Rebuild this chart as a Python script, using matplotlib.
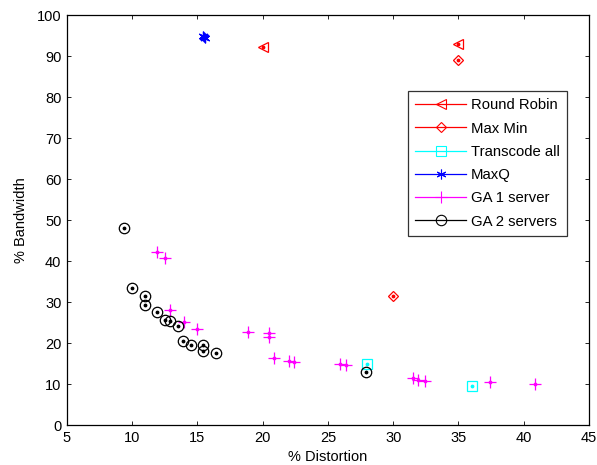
import matplotlib
matplotlib.use("Agg")
import matplotlib.pyplot as plt
from matplotlib.lines import Line2D

plt.rcParams['font.family'] = ['Liberation Sans', 'DejaVu Sans']

# % Distortion / % Bandwidth for each scheduling strategy
rr_x = [20.0, 35.0]
rr_y = [92.2, 93.0]

maxmin_x = [35.0, 30.0]
maxmin_y = [89.0, 31.5]

transcode_x = [28.0, 36.0]
transcode_y = [14.8, 9.6]

maxq_x = [15.4, 15.5, 15.6]
maxq_y = [94.9, 94.6, 94.4]

ga1_x = [11.9, 12.5, 12.9, 14.0, 15.0, 18.9, 20.5, 20.5, 20.9, 22.0, 22.4,
         25.9, 26.4, 31.5, 31.9, 32.4, 37.4, 40.9]
ga1_y = [42.1, 40.8, 28.0, 25.2, 23.4, 22.8, 22.4, 21.5, 16.3, 15.6, 15.3,
         15.0, 14.6, 11.4, 11.1, 10.7, 10.6, 9.9]

ga2_x = [9.4, 10.0, 11.0, 11.0, 11.9, 12.5, 12.9, 13.5, 13.9, 14.5, 15.4,
         15.4, 16.4, 27.9]
ga2_y = [48.0, 33.5, 31.5, 29.2, 27.5, 25.7, 25.4, 24.1, 20.5, 19.5, 19.5,
         18.1, 17.5, 13.0]

asterisk = (6, 2, 0)
series = [
    ("Round Robin", rr_x, rr_y, '<', '#ff0000', 7),
    ("Max Min", maxmin_x, maxmin_y, 'D', '#ff0000', 5.5),
    ("Transcode all", transcode_x, transcode_y, 's', '#00ffff', 6.5),
    ("MaxQ", maxq_x, maxq_y, asterisk, '#0000ff', 7),
    ("GA 1 server", ga1_x, ga1_y, '+', '#ff00ff', 8),
    ("GA 2 servers", ga2_x, ga2_y, 'o', '#000000', 7.5),
]

fig = plt.figure(figsize=(5.97, 4.65), dpi=100)
ax = fig.add_axes([0.1122, 0.086, 0.8744, 0.8817])

handles = []
for name, xs, ys, mk, col, ms in series:
    ax.plot(xs, ys, linestyle='none', marker=mk, markersize=ms,
            markerfacecolor='none', markeredgecolor=col, markeredgewidth=0.9)
    ax.plot(xs, ys, linestyle='none', marker='.', markersize=3.5, color=col)
    handles.append(Line2D([], [], color=col, linewidth=0.9, marker=mk,
                          markersize=ms, markerfacecolor='none',
                          markeredgecolor=col, markeredgewidth=0.8,
                          label=name))

ax.set_xlim(5, 45)
ax.set_ylim(0, 100)
ax.set_xticks(range(5, 46, 5))
ax.set_yticks(range(0, 101, 10))
ax.tick_params(direction='in', length=3, width=0.6, labelsize=10.5,
               top=True, right=True, pad=4)
for sp in ax.spines.values():
    sp.set_linewidth(0.9)

ax.set_xlabel('% Distortion', fontsize=10.5, labelpad=4)
ax.set_ylabel('% Bandwidth', fontsize=10.5, labelpad=6)

leg = ax.legend(handles=handles, loc='upper left',
                bbox_to_anchor=(0.653, 0.8146), fontsize=10.7,
                frameon=True, fancybox=False, shadow=False,
                edgecolor='black', handlelength=3.4, borderpad=0.5,
                labelspacing=0.62, handletextpad=0.35, borderaxespad=0)
leg.get_frame().set_linewidth(0.9)

fig.savefig('out.png', dpi=100)
